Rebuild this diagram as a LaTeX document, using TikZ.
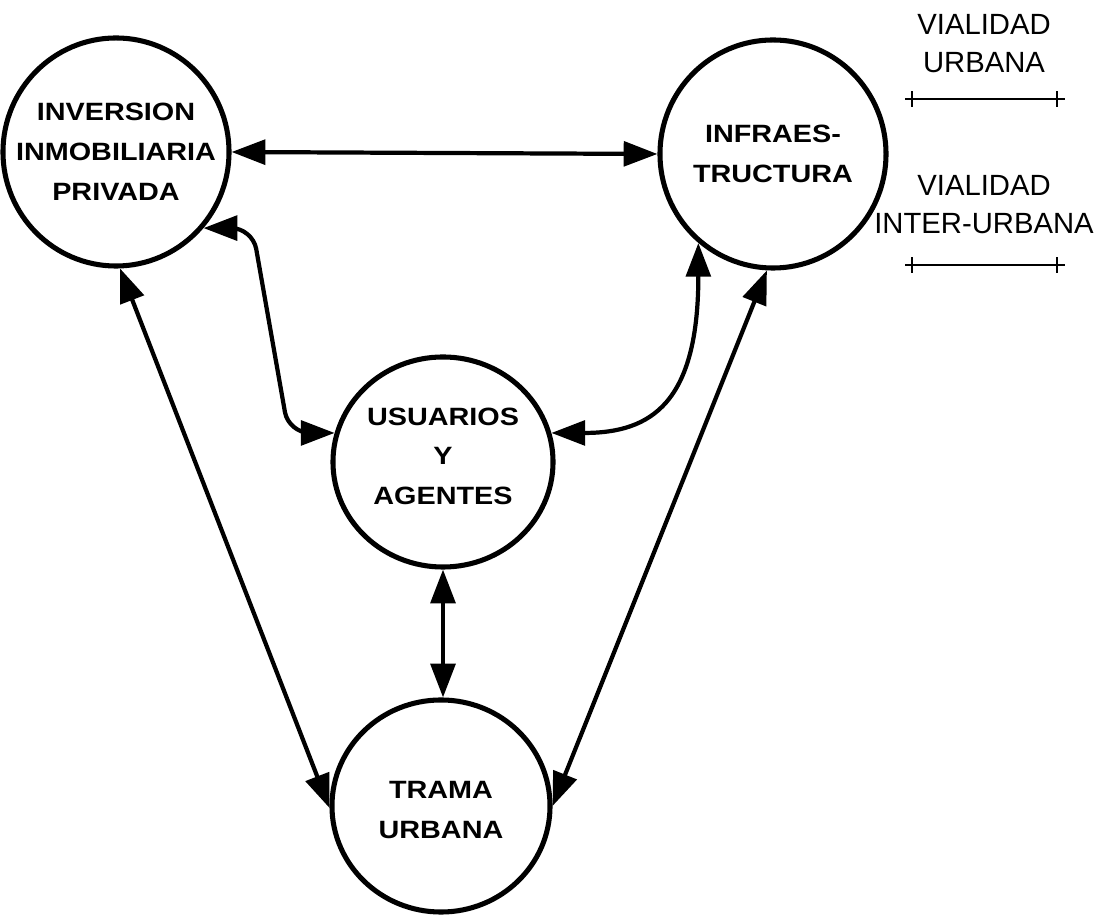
\documentclass[tikz,border=0pt]{standalone}
\usepackage{fontspec}
\setmainfont{Liberation Sans}
\newfontfamily\circfont[FakeStretch=1.15]{Liberation Sans}
\usepackage{tikz}
\usetikzlibrary{arrows.meta}
\usetikzlibrary{shapes.geometric}
\usetikzlibrary{calc}

\begin{document}
\begin{tikzpicture}[x=0.025cm, y=0.025cm,
    bubble/.style={ellipse, draw, line width=3.6pt, inner sep=0pt},
    tag/.style={align=center, inner sep=0pt, font=\circfont\bfseries\fontsize{17.8}{28.4}\selectfont},
    legend/.style={align=center, inner sep=0pt, font=\fontsize{20.8}{27}\selectfont},
    link/.style={line width=3pt, {Triangle[length=24pt,width=17.5pt]}-{Triangle[length=24pt,width=17.5pt]}},
    legline/.style={line width=2pt}]
    \useasboundingbox (0,0) rectangle (1098,920);
    \node[bubble, minimum width=5.65cm, minimum height=5.7cm] (inv) at (116,768) {};
    \node[bubble, minimum width=5.65cm, minimum height=5.7cm] (inf) at (773,766) {};
    \node[bubble, minimum width=5.5cm, minimum height=5.25cm] (usu) at (443,458) {};
    \node[bubble, minimum width=5.45cm, minimum height=5.3cm] (tra) at (441,114) {};
    \node[tag] (invlbl) at (inv) {INVERSION\\INMOBILIARIA\\PRIVADA};
    \node[tag] (inflbl) at (inf) {INFRAES-\\TRUCTURA};
    \node[tag] (usulbl) at ([yshift=4]usu) {USUARIOS\\Y\\AGENTES};
    \node[tag] (tralbl) at ([yshift=-3]tra) {TRAMA\\URBANA};
    % connections
    \draw[link] (inv.east) -- (inf.west);
    \draw[link, rounded corners=15] (inv.-41) -- ++(49,0) -- ($(usu.165)+(-46,0)$) -- (usu.165);
    \draw[link] (inf.-130) .. controls +(0,-160) and +(100,0) .. (usu.15);
    \draw[link] (usu.south) -- (usu.south |- tra.north);
    \draw[link] (inv.-88) -- (tra.181);
    \draw[link] (inf.-93) -- (tra.east);
    % legend
    \node[legend] (urb) at (984,876) {VIALIDAD\\URBANA};
    \node[legend] (inter) at (984,715) {VIALIDAD\\INTER-URBANA};
    \draw[legline] (905,821) -- (1065,821);
    \draw[legline] (912,813) -- (912,829) (1057,813) -- (1057,829);
    \draw[legline] (905,655) -- (1065,655);
    \draw[legline] (912,647) -- (912,663) (1057,647) -- (1057,663);
  \end{tikzpicture}
\end{document}
